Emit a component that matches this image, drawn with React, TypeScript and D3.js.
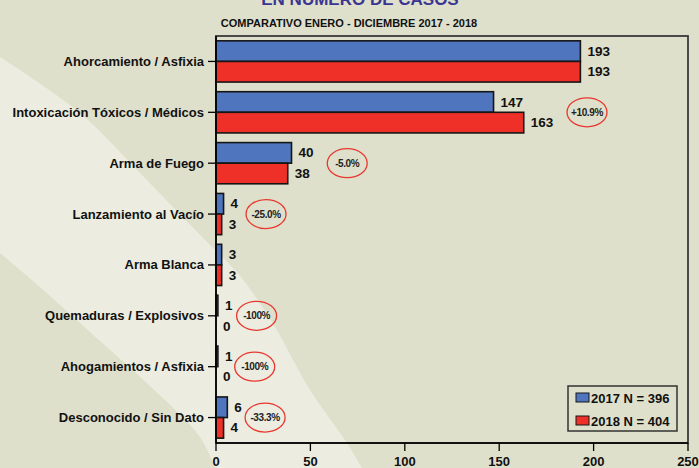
import React from 'react';
import * as d3 from 'd3';

const W = 699;
const H = 468;

const titleText = 'EN NUMERO DE CASOS';
const subtitleText = 'COMPARATIVO ENERO - DICIEMBRE 2017 - 2018';

const categories = [
  'Ahorcamiento / Asfixia',
  'Intoxicación Tóxicos / Médicos',
  'Arma de Fuego',
  'Lanzamiento al Vacío',
  'Arma Blanca',
  'Quemaduras / Explosivos',
  'Ahogamientos / Asfixia',
  'Desconocido / Sin Dato',
];
const values2017 = [193, 147, 40, 4, 3, 1, 1, 6];
const values2018 = [193, 163, 38, 3, 3, 0, 0, 4];
const seriesNames = ['2017', '2018'];
const seriesTotals = [396, 404];
const seriesColors = ['#4f75be', '#ee3029'];
const xTicks = [0, 50, 100, 150, 200, 250];
// where (in data units) each change annotation sits; null = no annotation
const changeAnchor = [null, 196.5, 69.5, 26.5, null, 21.5, 20.5, 26];

// light diagonal band of the slide background
const bandUpper: [number, number][] = [
  [0, 57], [80, 113], [140, 173], [200, 235], [240, 276], [272, 322], [310, 390], [347, 443], [362, 468],
];
const bandLower: [number, number][] = [
  [215, 468], [200, 437], [150, 386], [100, 341], [33, 281], [0, 253],
];

const FONT = '"Liberation Sans", Arial, Helvetica, sans-serif';

function pctLabel(a: number, b: number) {
  const p = ((b - a) / a) * 100;
  if (Math.abs(p) === 100) return (p > 0 ? '+' : '') + p.toFixed(0) + '%';
  return (p > 0 ? '+' : '') + p.toFixed(1) + '%';
}

export default function App() {
  const x = d3.scaleLinear().domain([0, 250]).range([216, 688]);
  const y = d3
    .scaleBand<string>()
    .domain(categories)
    .range([36, 443])
    .paddingInner(0.19)
    .paddingOuter(0.095);
  const ys = d3.scaleBand<string>().domain(seriesNames).range([0, y.bandwidth()]);
  const series = [values2017, values2018];

  const line = d3.line().curve(d3.curveCatmullRom.alpha(0.5));
  const bandPath =
    (line(bandUpper) as string) +
    'L' +
    (line(bandLower) as string).slice(1) +
    'Z';

  const [x0, x1] = x.range();
  const [y0, y1] = y.range();

  return (
    <svg
      width={W}
      height={H}
      style={{ position: 'absolute', left: 0, top: 0, fontFamily: FONT }}
    >
      <rect x={0} y={0} width={W} height={H} fill="#dfe0cb" />
      <path d={bandPath} fill="#ecede0" />

      <text x={360} y={5} textAnchor="middle" fontSize={17} fontWeight="bold" fill="#3a3592">
        {titleText}
      </text>
      <text x={349} y={27} textAnchor="middle" fontSize={11} fontWeight="bold" fill="#111">
        {subtitleText}
      </text>

      {/* frame */}
      <rect x={x0} y={y0} width={x1 - x0} height={y1 - y0} fill="none" stroke="#3a3a3a" strokeWidth={1.8} />

      {/* bars */}
      {categories.map((c, i) =>
        series.map((vals, s) => {
          const by = (y(c) as number) + (ys(seriesNames[s]) as number);
          const bh = ys.bandwidth();
          const v = vals[i];
          return (
            <g key={c + s}>
              {v > 0 && (
                <rect
                  x={x(0)}
                  y={by}
                  width={x(v) - x(0)}
                  height={bh}
                  fill={seriesColors[s]}
                  stroke="#161616"
                  strokeWidth={1.6}
                />
              )}
              <text
                x={x(v) + 7}
                y={by + bh / 2}
                dominantBaseline="central"
                fontSize={13.5}
                fontWeight="bold"
                fill="#111"
              >
                {v}
              </text>
            </g>
          );
        })
      )}

      {/* y axis */}
      <line x1={x0} x2={x0} y1={y0} y2={y1} stroke="#000" strokeWidth={1.6} />
      {categories.map((c) => {
        const cy = (y(c) as number) + y.bandwidth() / 2;
        return (
          <g key={'yt' + c}>
            <line x1={x0 - 8} x2={x0} y1={cy} y2={cy} stroke="#000" strokeWidth={1.3} />
            <text
              x={x0 - 12}
              y={cy}
              dominantBaseline="central"
              textAnchor="end"
              fontSize={13}
              fontWeight="bold"
              fill="#111"
            >
              {c}
            </text>
          </g>
        );
      })}

      {/* x axis */}
      <line x1={x0} x2={x1} y1={y1} y2={y1} stroke="#000" strokeWidth={1.6} />
      {xTicks.map((t) => (
        <g key={'xt' + t}>
          <line x1={x(t)} x2={x(t)} y1={y1} y2={y1 + 8} stroke="#000" strokeWidth={1.3} />
          <text x={x(t)} y={466} textAnchor="middle" fontSize={13} fontWeight="bold" fill="#111">
            {t}
          </text>
        </g>
      ))}

      {/* change annotations */}
      {categories.map((c, i) => {
        const a = changeAnchor[i];
        if (a == null) return null;
        const cy = (y(c) as number) + y.bandwidth() / 2;
        const cx = x(a);
        return (
          <g key={'pc' + c}>
            <ellipse cx={cx} cy={cy} rx={20} ry={14.5} fill="none" stroke="#e8372f" strokeWidth={1.3} />
            <text
              x={cx}
              y={cy}
              dominantBaseline="central"
              textAnchor="middle"
              fontSize={10}
              letterSpacing={-0.4}
              fontWeight="bold"
              fill="#222"
            >
              {pctLabel(values2017[i], values2018[i])}
            </text>
          </g>
        );
      })}

      {/* legend */}
      <g>
        <rect x={568} y={386} width={109} height={45} fill="none" stroke="#333" strokeWidth={1.5} />
        {seriesNames.map((s, k) => (
          <g key={'lg' + s}>
            <rect
              x={576}
              y={393 + k * 23}
              width={13}
              height={9}
              fill={seriesColors[k]}
              stroke="#161616"
              strokeWidth={1}
            />
            <text x={591} y={402.5 + k * 23} fontSize={13} fontWeight="bold" fill="#111">
              {`${s} N = ${seriesTotals[k]}`}
            </text>
          </g>
        ))}
      </g>
    </svg>
  );
}
